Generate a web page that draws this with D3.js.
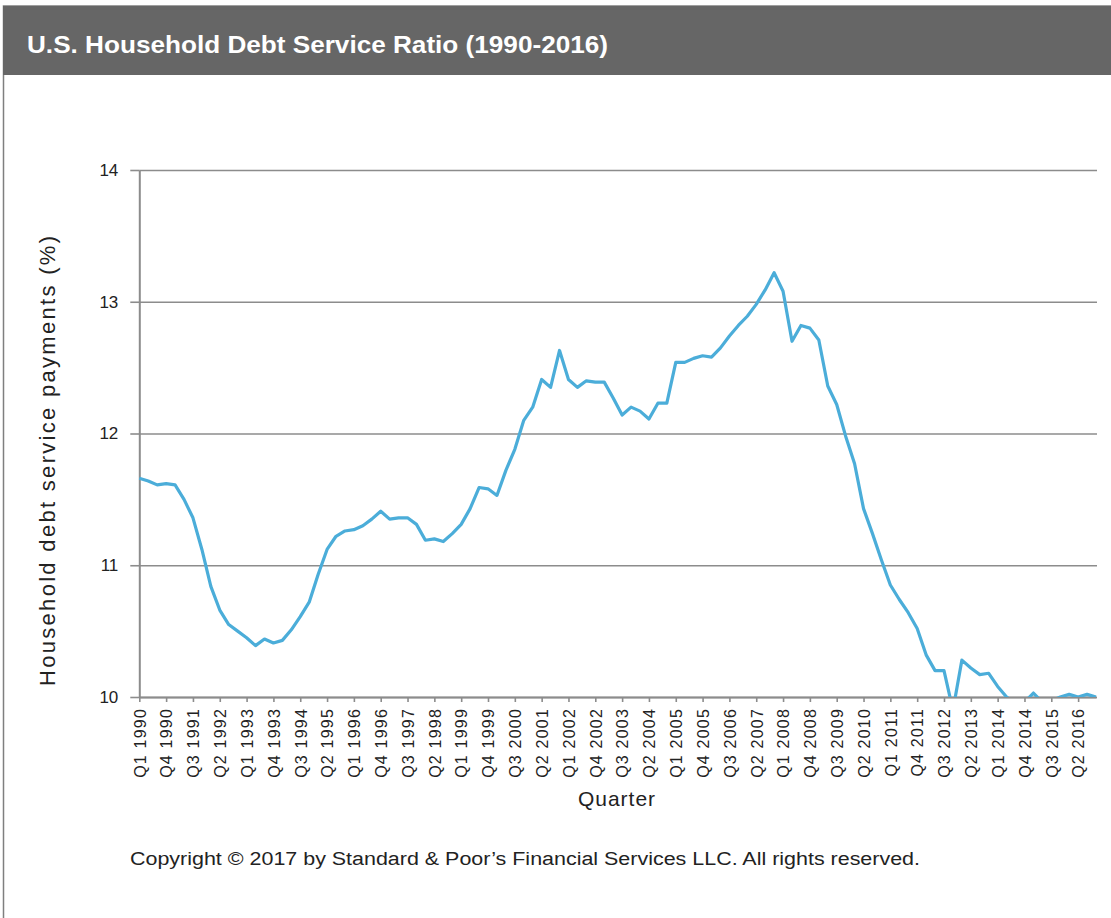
<!DOCTYPE html>
<html>
<head>
<meta charset="utf-8">
<title>U.S. Household Debt Service Ratio</title>
<script src="https://cdn.jsdelivr.net/npm/d3@7"></script>
<style>
  body { margin: 0; background: #fff; }
  svg { display: block; font-family: "Liberation Sans", Arial, sans-serif; }
</style>
</head>
<body>
<div id="chart"></div>
<script>
// Data
const years = d3.range(1990, 2017)
const quarterNames = ["Q1", "Q2", "Q3", "Q4"]
const quarters = years.flatMap(y => quarterNames.map(q => q + " " + y))

// debt service ratio, % of disposable income (Q1 1990 .. Q4 2016)
const dsr = [
  11.66, 11.64, 11.61, 11.62, 11.61, 11.50, 11.36, 11.12, 10.84, 10.66,
  10.55, 10.50, 10.45, 10.39, 10.44, 10.41, 10.43, 10.51, 10.61, 10.72,
  10.93, 11.12, 11.22, 11.26, 11.27, 11.30, 11.35, 11.41, 11.35, 11.36,
  11.36, 11.31, 11.19, 11.20, 11.18, 11.24, 11.31, 11.43, 11.59, 11.58,
  11.53, 11.72, 11.88, 12.10, 12.20, 12.41, 12.35, 12.63, 12.41, 12.35,
  12.40, 12.39, 12.39, 12.27, 12.14, 12.20, 12.17, 12.11, 12.23, 12.23,
  12.54, 12.54, 12.57, 12.59, 12.58, 12.65, 12.74, 12.82, 12.89, 12.98,
  13.09, 13.22, 13.08, 12.70, 12.82, 12.80, 12.71, 12.36, 12.22, 11.98,
  11.77, 11.43, 11.24, 11.04, 10.85, 10.74, 10.64, 10.52, 10.32, 10.20,
  10.20, 9.90, 10.28, 10.22, 10.17, 10.18, 10.08, 10.00, 9.95, 9.96,
  10.03, 9.96, 9.97, 10.00, 10.02, 10.00, 10.02, 10.00
]

const yTicks = [10, 11, 12, 13, 14]
const xTickLabels = quarters.filter((q, i) => i % 3 === 0)

// Layout
const w = 1111
const h = 918
const plotLeft = 139.3
const plotRight = 1096
const plotTop = 170
const plotBottom = 697

const svg = d3.select("#chart").append("svg")
  .attr("width", w)
  .attr("height", h)

// frame + header bar
svg.append("rect")
  .attr("x", 3.5).attr("y", 6).attr("width", w + 10).attr("height", h + 10)
  .attr("fill", "#fff").attr("stroke", "#7f7f7f").attr("stroke-width", 1.5)
svg.append("rect")
  .attr("x", 3).attr("y", 6).attr("width", w).attr("height", 69)
  .attr("fill", "#666666")
svg.append("text")
  .attr("x", 27).attr("y", 53)
  .attr("font-size", 23).attr("font-weight", "bold")
  .attr("fill", "#fff")
  .attr("textLength", 581).attr("lengthAdjust", "spacingAndGlyphs")
  .text("U.S. Household Debt Service Ratio (1990-2016)")

// Scales
const x = d3.scalePoint().domain(quarters).range([plotLeft, plotRight])
const y = d3.scaleLinear().domain([10, 14]).range([plotBottom, plotTop])

// gridlines
svg.append("g")
  .attr("transform", `translate(${plotLeft},0)`)
  .call(d3.axisLeft(y).tickValues(yTicks).tickSize(-(plotRight - plotLeft + 1)).tickFormat(""))
  .call(g => g.select(".domain").remove())
  .call(g => g.selectAll("line").attr("stroke", "#8c8c8c").attr("stroke-width", 1.6))

// y axis
svg.append("g")
  .attr("transform", `translate(${plotLeft},0)`)
  .call(d3.axisLeft(y).tickValues(yTicks).tickFormat(d3.format("d"))
    .tickSize(9).tickPadding(12).tickSizeOuter(0))
  .call(g => g.select(".domain").attr("stroke", "#8c8c8c").attr("stroke-width", 2))
  .call(g => g.selectAll("line").attr("stroke", "#8c8c8c").attr("stroke-width", 1.6))
  .call(g => g.selectAll("text").attr("font-size", 17).attr("fill", "#222")
    .attr("font-family", "Liberation Sans, Arial, sans-serif"))

// x axis
svg.append("g")
  .attr("transform", `translate(0,${plotBottom})`)
  .call(d3.axisBottom(x).tickValues(xTickLabels).tickSize(5).tickSizeOuter(0))
  .call(g => g.select(".domain").attr("stroke", "#8c8c8c").attr("stroke-width", 2))
  .call(g => g.selectAll("line").attr("stroke", "#8c8c8c").attr("stroke-width", 1.6))
  .call(g => g.selectAll("text")
    .attr("font-size", 16).attr("fill", "#222")
    .attr("font-family", "Liberation Sans, Arial, sans-serif")
    .attr("letter-spacing", "1.2px")
    .attr("transform", "rotate(-90)")
    .attr("text-anchor", "end")
    .attr("x", -11).attr("y", 0).attr("dy", "0.36em"))

// line, clipped at the axis like the original
svg.append("clipPath").attr("id", "plot-clip")
  .append("rect")
  .attr("x", plotLeft - 2).attr("y", plotTop - 20)
  .attr("width", plotRight - plotLeft + 4).attr("height", plotBottom - plotTop + 20)

const line = d3.line()
  .x((d, i) => x(quarters[i]))
  .y(d => y(d))

svg.append("path")
  .datum(dsr)
  .attr("clip-path", "url(#plot-clip)")
  .attr("fill", "none")
  .attr("stroke", "#4badd9")
  .attr("stroke-width", 3.2)
  .attr("stroke-linejoin", "round")
  .attr("d", line)

// axis titles
svg.append("text")
  .attr("transform", "translate(55,461) rotate(-90)")
  .attr("text-anchor", "middle")
  .attr("font-size", 22).attr("fill", "#222")
  .attr("textLength", 450).attr("lengthAdjust", "spacing")
  .text("Household debt service payments (%)")

svg.append("text")
  .attr("x", 617).attr("y", 806)
  .attr("text-anchor", "middle")
  .attr("font-size", 21).attr("fill", "#222")
  .attr("letter-spacing", "1px")
  .text("Quarter")

svg.append("text")
  .attr("x", 130).attr("y", 865)
  .attr("font-size", 18).attr("fill", "#222")
  .attr("textLength", 790).attr("lengthAdjust", "spacingAndGlyphs")
  .text("Copyright © 2017 by Standard & Poor’s Financial Services LLC. All rights reserved.")
</script>
</body>
</html>
